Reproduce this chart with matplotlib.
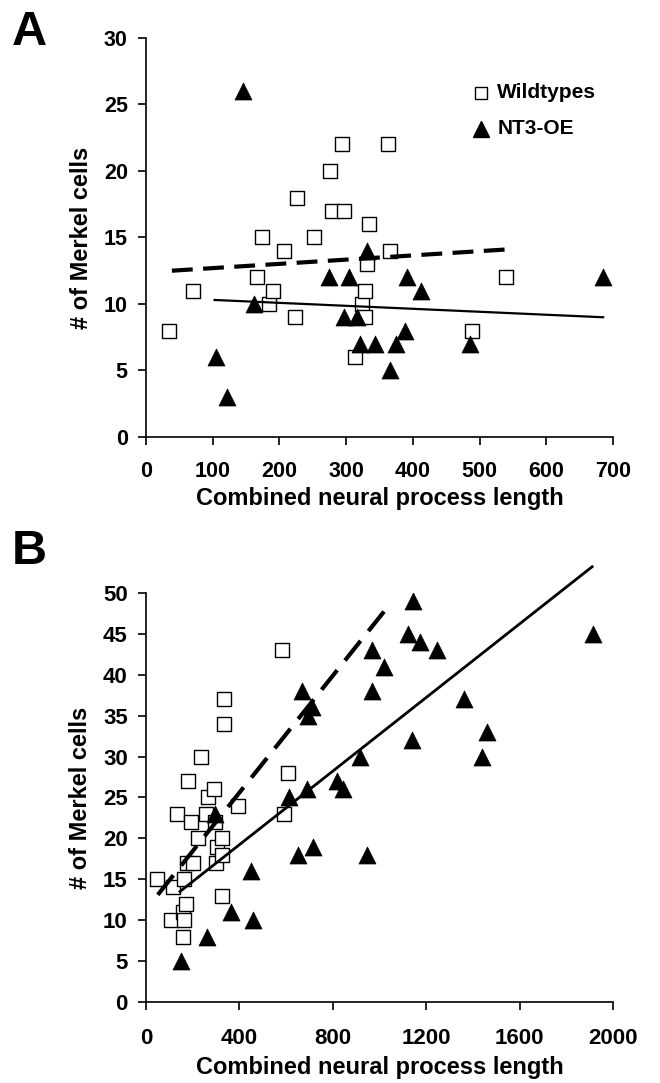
import matplotlib
matplotlib.use("Agg")
import matplotlib.pyplot as plt

plt.rcParams['font.family'] = ['Liberation Sans', 'DejaVu Sans']
plt.rcParams['font.weight'] = 'bold'

# ---------------- Panel A data ----------------
a_wt_x = [35, 70, 166, 174, 185, 190, 207, 223, 226, 252, 276, 279, 294, 297,
          313, 324, 328, 328, 331, 335, 363, 366, 488, 540]
a_wt_y = [8, 11, 12, 15, 10, 11, 14, 9, 18, 15, 20, 17, 22, 17,
          6, 10, 11, 9, 13, 16, 22, 14, 8, 12]
a_nt_x = [105, 122, 145, 162, 275, 297, 305, 316, 321, 331, 343, 365, 375,
          388, 391, 412, 486, 685]
a_nt_y = [6, 3, 26, 10, 12, 9, 12, 9, 7, 14, 7, 5, 7,
          8, 12, 11, 7, 12]
a_wt_fit_x = [39, 541]
a_wt_fit_y = [12.5, 14.1]
a_nt_fit_x = [103, 685]
a_nt_fit_y = [10.3, 9.0]

# ---------------- Panel B data ----------------
b_wt_x = [46, 107, 117, 133, 158, 158, 163, 163, 171, 180, 178, 200, 193, 222,
          236, 257, 265, 291, 295, 300, 304, 325, 325, 325, 334, 334, 394,
          582, 591, 608]
b_wt_y = [15, 10, 14, 23, 8, 11, 10, 15, 12, 27, 17, 17, 22, 20,
          30, 23, 25, 26, 22, 17, 19, 20, 18, 13, 34, 37, 24,
          43, 23, 28]
b_nt_x = [150, 261, 295, 364, 450, 458, 612, 651, 668, 690, 694, 711, 716,
          818, 844, 917, 946, 968, 968, 1019, 1122, 1139, 1143, 1174, 1246,
          1362, 1439, 1460, 1914]
b_nt_y = [5, 8, 23, 11, 16, 10, 25, 18, 38, 26, 35, 36, 19,
          27, 26, 30, 18, 43, 38, 41, 45, 32, 49, 44, 43,
          37, 30, 33, 45]
b_wt_fit_x = [51, 1041]
b_wt_fit_y = [13.1, 48.5]
b_nt_fit_x = [146, 1910]
b_nt_fit_y = [13.5, 53.2]

legend_labels = ['Wildtypes', 'NT3-OE']

fig = plt.figure(figsize=(6.6, 10.83), dpi=100)
axA = fig.add_axes([0.221, 0.5965, 0.708, 0.3685])
axB = fig.add_axes([0.221, 0.0748, 0.708, 0.3777])

label_fs = 17

def style(ax, tick_fs, xpad):
    for s in ['top', 'right']:
        ax.spines[s].set_visible(False)
    for s in ['left', 'bottom']:
        ax.spines[s].set_linewidth(1.2)
    ax.tick_params(axis='x', direction='out', length=6, width=1.2, labelsize=tick_fs, pad=xpad)
    ax.tick_params(axis='y', direction='out', length=6, width=1.2, labelsize=tick_fs, pad=7)
    for lab in ax.get_xticklabels() + ax.get_yticklabels():
        lab.set_fontweight('bold')

# Panel A
axA.scatter(a_wt_x, a_wt_y, marker='s', s=95, facecolor='white', edgecolor='black',
            linewidth=1.0, zorder=2)
axA.scatter(a_nt_x, a_nt_y, marker='^', s=150, facecolor='black', edgecolor='black',
            linewidth=0.5, zorder=2)
axA.plot(a_wt_fit_x, a_wt_fit_y, color='black', lw=3, dashes=(5, 2.5), zorder=3,
         dash_capstyle='butt')
axA.plot(a_nt_fit_x, a_nt_fit_y, color='black', lw=1.6, zorder=3)
axA.set_xlim(0, 700)
axA.set_ylim(0, 30)
axA.set_xticks(range(0, 701, 100))
axA.set_yticks(range(0, 31, 5))
axA.set_xlabel('Combined neural process length', fontsize=label_fs, fontweight='bold', labelpad=4)
axA.set_ylabel('# of Merkel cells', fontsize=label_fs, fontweight='bold', labelpad=8)
style(axA, 15.5, 11)

# legend (manual, frameless)
axA.plot([0.718], [0.862], marker='s', ls='none', markersize=9, markerfacecolor='white',
         markeredgecolor='black', markeredgewidth=1.0, transform=axA.transAxes, clip_on=False)
axA.plot([0.718], [0.772], marker='^', ls='none', markersize=11.5, markerfacecolor='black',
         markeredgecolor='black', transform=axA.transAxes, clip_on=False)
axA.text(0.752, 0.862, legend_labels[0], transform=axA.transAxes, fontsize=15,
         fontweight='bold', va='center', ha='left')
axA.text(0.752, 0.772, legend_labels[1], transform=axA.transAxes, fontsize=15,
         fontweight='bold', va='center', ha='left')

# Panel B
axB.scatter(b_wt_x, b_wt_y, marker='s', s=95, facecolor='white', edgecolor='black',
            linewidth=1.0, zorder=2)
axB.scatter(b_nt_x, b_nt_y, marker='^', s=150, facecolor='black', edgecolor='black',
            linewidth=0.5, zorder=2)
axB.plot(b_wt_fit_x, b_wt_fit_y, color='black', lw=3, dashes=(6, 3), zorder=3,
         dash_capstyle='butt')
axB.plot(b_nt_fit_x, b_nt_fit_y, color='black', lw=2, zorder=3, clip_on=False)
axB.set_xlim(0, 2000)
axB.set_ylim(0, 50)
axB.set_xticks(range(0, 2001, 400))
axB.set_yticks(range(0, 51, 5))
axB.set_xlabel('Combined neural process length', fontsize=label_fs, fontweight='bold', labelpad=5)
axB.set_ylabel('# of Merkel cells', fontsize=label_fs, fontweight='bold', labelpad=8)
style(axB, 16, 13)

fig.text(0.018, 0.958, 'A', fontsize=35, fontweight='bold', va='baseline', ha='left')
fig.text(0.018, 0.479, 'B', fontsize=35, fontweight='bold', va='baseline', ha='left')

fig.savefig('out.png', dpi=100)
